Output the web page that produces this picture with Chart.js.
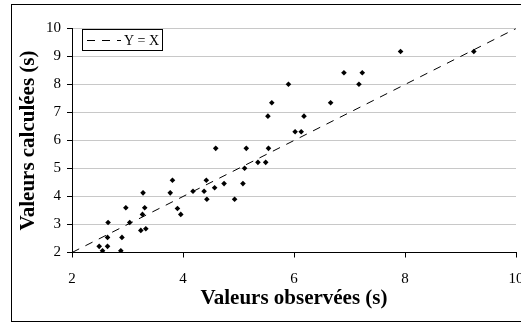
<!DOCTYPE html>
<html><head><meta charset="utf-8">
<script src="https://cdn.jsdelivr.net/npm/chart.js@4"></script>
<style>
html,body{margin:0;padding:0;background:#fff;overflow:hidden;width:521px;height:324px}
canvas{display:block}
</style></head>
<body><canvas id="c" width="540" height="324"></canvas>
<script>
const observed   = [2.49,2.55,2.64,2.64,2.65,2.88,2.90,2.97,3.04,3.24,3.27,3.28,3.31,3.33,3.77,3.81,3.90,3.96,4.18,4.38,4.42,4.43,4.57,4.59,4.74,4.93,5.08,5.11,5.14,5.35,5.49,5.53,5.54,5.60,5.90,6.02,6.13,6.18,6.66,6.90,7.17,7.23,7.92,9.24];
const calculated = [2.22,2.06,2.22,2.54,3.07,2.06,2.54,3.60,3.07,2.79,3.36,4.13,3.60,2.85,4.13,4.58,3.57,3.36,4.19,4.19,4.58,3.90,4.31,5.72,4.46,3.90,4.46,5.01,5.72,5.22,5.22,6.87,5.72,7.35,8.01,6.31,6.31,6.87,7.35,8.42,8.01,8.42,9.18,9.18];
const refLineX = [2, 10];
const refLineY = [2, 10];
const refLabel = 'Y = X';
const xTicks = [2, 4, 6, 8, 10];
const yTicks = [2, 3, 4, 5, 6, 7, 8, 9, 10];
const xTitle = 'Valeurs observées (s)';
const yTitle = 'Valeurs calculées (s)';

const FONT = 'Liberation Serif';

const framePlugin = {
  id: 'frame',
  beforeDraw(chart) {
    const ctx = chart.ctx;
    ctx.save();
    ctx.fillStyle = '#fff';
    ctx.fillRect(0, 0, chart.width, chart.height);
    ctx.strokeStyle = '#000';
    ctx.lineWidth = 1;
    ctx.strokeRect(11.5, 4.5, 600, 317);
    ctx.restore();
  },
  afterDatasetsDraw(chart) {
    const ctx = chart.ctx;
    const ds = chart.data.datasets[1];
    ctx.save();
    ctx.fillStyle = '#fff';
    ctx.fillRect(82.5, 29.5, 80, 21);
    ctx.strokeStyle = '#000';
    ctx.lineWidth = 1;
    ctx.strokeRect(82.5, 29.5, 80, 21);
    ctx.setLineDash(ds.borderDash);
    ctx.beginPath();
    ctx.moveTo(87, 40.5);
    ctx.lineTo(121, 40.5);
    ctx.stroke();
    ctx.setLineDash([]);
    ctx.fillStyle = '#000';
    ctx.font = '14px "' + FONT + '"';
    ctx.textBaseline = 'middle';
    ctx.textAlign = 'left';
    ctx.fillText(ds.label, 124, 41);
    ctx.restore();
  }
};

new Chart(document.getElementById('c'), {
  type: 'scatter',
  data: {
    datasets: [
      {
        label: 'Valeurs',
        data: observed.map((x, i) => ({x: x, y: calculated[i]})),
        pointStyle: 'rectRot',
        pointRadius: 2.8,
        pointBorderWidth: 0,
        backgroundColor: '#000',
        borderColor: '#000',
        showLine: false
      },
      {
        label: refLabel,
        data: refLineX.map((x, i) => ({x: x, y: refLineY[i]})),
        showLine: true,
        borderColor: '#000',
        borderWidth: 1,
        borderDash: [8, 7],
        pointRadius: 0,
        fill: false
      }
    ]
  },
  options: {
    responsive: false,
    animation: false,
    devicePixelRatio: 1,
    events: [],
    layout: { padding: { left: 0, top: 28.5, right: 24, bottom: 0 } },
    plugins: { legend: { display: false }, tooltip: { enabled: false } },
    scales: {
      x: {
        type: 'linear', min: 2, max: 10,
        afterBuildTicks: s => { s.ticks = xTicks.map(v => ({value: v})); },
        afterFit: s => { s.height = 324 - 252.5; },
        grid: { drawOnChartArea: false, drawTicks: true, tickLength: 5, tickColor: '#000' },
        border: { color: '#000', width: 1 },
        ticks: { color: '#000', font: { family: FONT, size: 15 }, padding: 13, maxRotation: 0, autoSkip: false },
        title: { display: true, text: xTitle, color: '#000', font: { family: FONT, size: 21, weight: 'bold' }, padding: { top: 0, bottom: 13 } }
      },
      y: {
        type: 'linear', min: 2, max: 10,
        afterBuildTicks: s => { s.ticks = yTicks.map(v => ({value: v})); },
        afterFit: s => { s.width = 72; },
        grid: { color: '#c8c8c8', drawTicks: true, tickLength: 5, tickColor: '#000' },
        border: { color: '#000', width: 1 },
        ticks: { color: '#000', font: { family: FONT, size: 15 }, padding: 6, autoSkip: false },
        title: { display: true, text: yTitle, color: '#000', font: { family: FONT, size: 21, weight: 'bold' }, padding: { top: 16, bottom: 0 } }
      }
    }
  },
  plugins: [framePlugin]
});
</script>
</body></html>
